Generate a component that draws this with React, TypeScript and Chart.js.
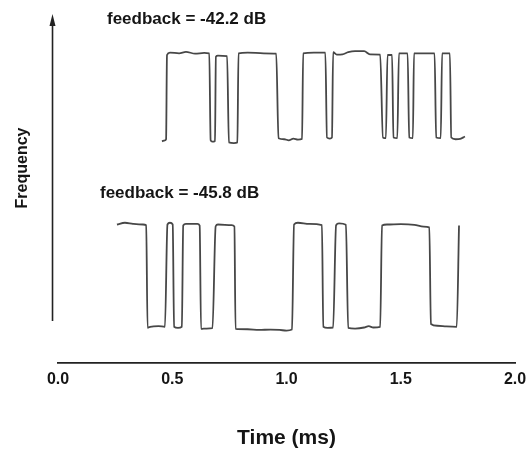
import React, { useEffect, useRef } from "react";
import { Chart, registerables } from "chart.js";

Chart.register(...registerables);

// Time axis (ms)
const xTickValues = [0, 0.5, 1.0, 1.5, 2.0];

// Upper trace: feedback = -42.2 dB (time in ms, frequency in arbitrary units)
const topTime = [
  0.455, 0.468, 0.473, 0.477, 0.49, 0.53, 0.56, 0.6, 0.64, 0.662,
  0.668, 0.675, 0.687, 0.691, 0.7, 0.74, 0.748, 0.77, 0.785, 0.79,
  0.83, 0.9, 0.955, 0.965, 0.99, 1.01, 1.03, 1.05, 1.068, 1.073,
  1.12, 1.17, 1.177, 1.19, 1.199, 1.204, 1.22, 1.245, 1.27, 1.3,
  1.34, 1.365, 1.41, 1.422, 1.435, 1.442, 1.462, 1.468, 1.485, 1.492,
  1.53, 1.537, 1.553, 1.558, 1.648, 1.655, 1.675, 1.681, 1.715, 1.721,
  1.74, 1.76, 1.781,
];
const topFreq = [
  63.7, 64.0, 64.3, 88.5, 89.2, 89.0, 89.4, 88.9, 89.1, 89.0,
  64.0, 63.6, 63.8, 88.0, 88.3, 88.2, 63.4, 63.2, 63.4, 89.0,
  89.2, 89.0, 88.9, 64.6, 64.3, 64.0, 64.5, 64.2, 64.4, 89.0,
  89.2, 89.2, 64.8, 64.5, 64.8, 89.3, 88.6, 88.7, 89.3, 89.6,
  89.6, 88.7, 88.6, 64.8, 64.6, 88.5, 88.5, 64.8, 64.6, 89.0,
  89.0, 64.8, 64.6, 89.0, 89.0, 64.8, 64.6, 89.0, 89.0, 64.8,
  64.3, 64.4, 65.1,
];

// Lower trace: feedback = -45.8 dB
const bottomTime = [
  0.258, 0.293, 0.328, 0.372, 0.386, 0.392, 0.403, 0.44, 0.468, 0.479,
  0.49, 0.502, 0.508, 0.525, 0.542, 0.548, 0.56, 0.61, 0.62, 0.626,
  0.65, 0.676, 0.69, 0.7, 0.76, 0.772, 0.777, 0.83, 0.88, 0.93,
  0.97, 1.0, 1.024, 1.033, 1.05, 1.1, 1.155, 1.161, 1.18, 1.204,
  1.217, 1.23, 1.26, 1.27, 1.3, 1.34, 1.36, 1.38, 1.41, 1.418,
  1.44, 1.5, 1.56, 1.6, 1.625, 1.632, 1.66, 1.7, 1.745, 1.755,
];
const bottomFreq = [
  39.8, 40.3, 40.0, 39.8, 39.6, 10.1, 10.4, 10.6, 10.4, 39.8,
  40.3, 39.8, 10.4, 10.1, 10.4, 39.5, 40.0, 40.0, 39.5, 9.8,
  9.9, 10.0, 39.3, 39.8, 39.6, 39.2, 9.8, 9.7, 9.5, 9.6,
  9.5, 9.3, 9.6, 39.8, 40.3, 40.0, 39.6, 10.4, 10.1, 10.2,
  39.6, 40.1, 39.7, 10.1, 9.9, 10.2, 10.6, 10.2, 10.4, 39.5,
  39.8, 39.9, 39.7, 39.2, 39.0, 11.2, 10.7, 10.5, 10.4, 39.5,
];

const traceLabels = ["feedback = -42.2 dB", "feedback = -45.8 dB"];
const yAxisLabel = "Frequency";
const xAxisLabel = "Time (ms)";

const FONT = "'Liberation Sans', Arial, Helvetica, sans-serif";
const INK = "#151515";
const TRACE = "#474747";

const decorPlugin = {
  id: "decor",
  afterDraw(chart: any) {
    const { ctx } = chart;
    const xs = chart.scales.x;
    const ys = chart.scales.y;
    ctx.save();
    // vertical arrow axis
    const ax = xs.getPixelForValue(-0.024);
    const yBot = ys.getPixelForValue(12.1);
    const yTop = ys.getPixelForValue(100);
    ctx.strokeStyle = "#222";
    ctx.lineWidth = 1.6;
    ctx.beginPath();
    ctx.moveTo(ax, yBot);
    ctx.lineTo(ax, yTop + 6);
    ctx.stroke();
    ctx.fillStyle = "#222";
    ctx.beginPath();
    ctx.moveTo(ax, yTop - 1);
    ctx.lineTo(ax - 3, yTop + 11);
    ctx.lineTo(ax + 3, yTop + 11);
    ctx.closePath();
    ctx.fill();

    // y-axis label
    ctx.fillStyle = INK;
    ctx.font = `bold 16px ${FONT}`;
    ctx.save();
    ctx.translate(ax - 26, (yBot + yTop) / 2);
    ctx.rotate(-Math.PI / 2);
    ctx.textAlign = "center";
    ctx.textBaseline = "alphabetic";
    ctx.fillText(yAxisLabel, 0, 0);
    ctx.restore();

    // trace labels
    ctx.font = `bold 17px ${FONT}`;
    ctx.textAlign = "left";
    ctx.textBaseline = "alphabetic";
    ctx.fillText(traceLabels[0], xs.getPixelForValue(0.2144), ys.getPixelForValue(97.4));
    ctx.fillText(traceLabels[1], xs.getPixelForValue(0.1838), ys.getPixelForValue(47.3));
    ctx.restore();
  },
};

export default function App() {
  const canvasRef = useRef<HTMLCanvasElement | null>(null);

  useEffect(() => {
    const canvas = canvasRef.current;
    if (!canvas) return;
    const mk = (ts: number[], vs: number[]) => ts.map((t, i) => ({ x: t, y: vs[i] }));
    const chart = new Chart(canvas, {
      type: "line",
      data: {
        datasets: [
          {
            data: mk(topTime, topFreq),
            borderColor: TRACE,
            borderWidth: 1.8,
            pointRadius: 0,
            fill: false,
            cubicInterpolationMode: "monotone",
          },
          {
            data: mk(bottomTime, bottomFreq),
            borderColor: TRACE,
            borderWidth: 1.8,
            pointRadius: 0,
            fill: false,
            cubicInterpolationMode: "monotone",
          },
        ],
      },
      options: {
        responsive: false,
        animation: false,
        layout: { padding: { left: 58, right: 14, top: 15, bottom: 0 } },
        plugins: {
          legend: { display: false },
          tooltip: { enabled: false },
          title: { display: false },
        },
        scales: {
          x: {
            type: "linear",
            min: 0,
            max: 2,
            afterBuildTicks: (scale: any) => {
              scale.ticks = xTickValues.map((v) => ({ value: v }));
            },
            ticks: {
              autoSkip: false,
              maxRotation: 0,
              padding: 2,
              color: INK,
              font: { family: FONT, size: 16, weight: "bold", lineHeight: 1.8 },
              callback: (v: any) => Number(v).toFixed(1),
            },
            grid: { display: false, drawTicks: false },
            border: { display: true, color: "#222", width: 1.7 },
            title: {
              display: true,
              text: xAxisLabel,
              color: INK,
              font: { family: FONT, size: 21, weight: "bold" },
              padding: { top: 30, bottom: 2 },
            },
          },
          y: { type: "linear", min: 0, max: 100, display: false },
        },
      },
      plugins: [decorPlugin],
    } as any);
    return () => chart.destroy();
  }, []);

  return (
    <div style={{ position: "absolute", left: 0, top: 0, width: 529, height: 453, background: "#fff" }}>
      <canvas ref={canvasRef} width={529} height={453} />
    </div>
  );
}
